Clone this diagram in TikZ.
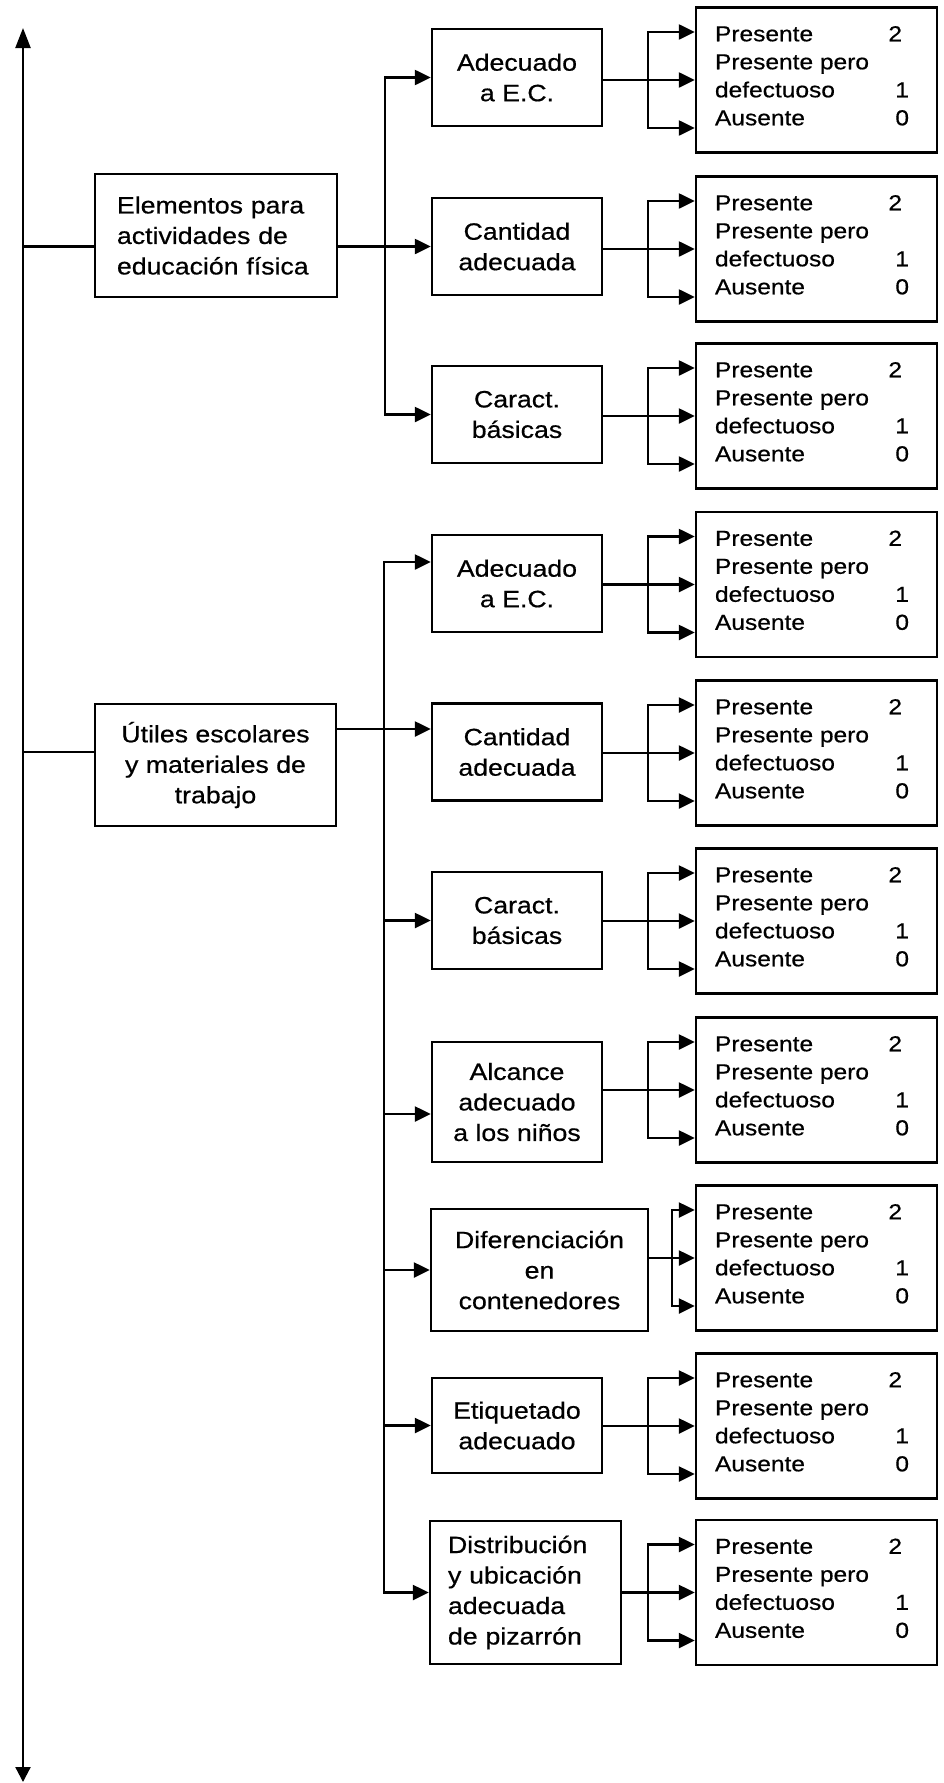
\documentclass[tikz,border=0pt]{standalone}
\usepackage{fontspec}
\setmainfont{Liberation Sans}[FakeStretch=1.13,FakeBold=0.6]
\usetikzlibrary{arrows.meta}
\newcommand{\restxt}{\parbox[t]{194pt}{Presente\hfill 2\hspace*{7pt}\\Presente pero\\defectuoso\hfill 1\\Ausente\hfill 0}}
\newcommand{\resfork}[3]{%
  \path ([yshift=48pt]#2.west) coordinate (#2u) ([yshift=-48pt]#2.west) coordinate (#2d);
  \draw[arr] (#1.east |- #2.west) -- (#2.west);
  \draw[arrb] (#2u) -| (#3 |- #2d) -- (#2d);}
\newcommand{\resnode}[2]{%
  \node[resbox] (#1) at (816.5,#2) {};
  \node[restext] (#1t) at ([xshift=20pt,yshift=-35pt]#1.north west) {\restxt};}
\begin{document}
\begin{tikzpicture}[x=1pt,y=-1pt,
  lw/.style={line width=2.4pt},
  box/.style={draw,lw,rectangle,inner sep=0pt,align=center,font=\fontsize{23.6}{30.5}\selectfont},
  mid/.style={box,minimum width=170pt,minimum height=97pt},
  resbox/.style={draw,lw,rectangle,inner sep=0pt,minimum width=241pt,minimum height=145pt},
  restext/.style={anchor=base west,inner sep=0pt,font=\fontsize{21.7}{28}\selectfont},
  conn/.style={lw},
  arr/.style={lw,-{Triangle[length=16pt,width=15pt]}},
  arrb/.style={lw,{Triangle[length=16pt,width=15pt]}-{Triangle[length=16pt,width=15pt]}},
]
\useasboundingbox (0,0) rectangle (943,1783);

% axis
\coordinate (axT) at (23,28);
\coordinate (axB) at (23,1782);
\draw[line width=2.2pt,{Triangle[length=20pt,width=15pt]}-{Triangle[length=15pt,width=15pt]}] (axT) -- (axB);

% left boxes
\node[box,minimum width=242pt,minimum height=123pt,align=left,text width=198pt] (E) at (216,235.5) {Elementos para\\actividades de\\educación física};
\node[box,minimum width=241pt,minimum height=122pt] (U) at (215.5,765) {Útiles escolares\\y materiales de\\trabajo};

% middle boxes
\node[mid] (A1) at (517,77.5) {Adecuado\\a E.C.};
\node[mid] (C1) at (517,246.5) {Cantidad\\adecuada};
\node[mid] (K1) at (517,414.5) {Caract.\\básicas};
\node[mid] (A2) at (517,583.5) {Adecuado\\a E.C.};
\node[mid] (C2) at (517,752) {Cantidad\\adecuada};
\node[mid] (K2) at (517,920.5) {Caract.\\básicas};
\node[mid,minimum height=120pt] (L2) at (517,1102) {Alcance\\adecuado\\a los niños};
\node[mid,minimum width=217pt,minimum height=122pt] (D2) at (539.5,1270) {Diferenciación\\en\\contenedores};
\node[mid,minimum height=95pt] (T2) at (517,1425.5) {Etiquetado\\adecuado};
\node[mid,minimum width=191pt,minimum height=143pt,align=left,text width=155pt] (P2) at (525.5,1592.5) {Distribución\\y ubicación\\adecuada\\de pizarrón};

% result boxes
\resnode{R1}{80}
\resnode{R2}{249}
\resnode{R3}{416}
\resnode{R4}{584.5}
\resnode{R5}{753}
\resnode{R6}{921}
\resnode{R7}{1090}
\resnode{R8}{1258}
\resnode{R9}{1426}
\resnode{R10}{1592.5}

% group 1 connectors
\coordinate (t1) at (385,0);
\draw[conn] (axT |- C1.west) -- (E.west |- C1.west);
\draw[arr] (E.east |- C1.west) -- (C1.west);
\draw[arrb] (A1.west) -| (t1 |- K1.west) -- (K1.west);

% group 2 connectors
\coordinate (t2) at (384,0);
\coordinate (a2in) at (0,562);
\coordinate (c2in) at (0,729);
\coordinate (l2in) at (0,1114);
\draw[conn] (axT |- C2.west) -- (U.west |- C2.west);
\draw[arr] (U.east |- c2in) -- (C2.west |- c2in);
\draw[arrb] (A2.west |- a2in) -| (t2 |- P2.west) -- (P2.west);
\draw[arr] (t2 |- K2.west) -- (K2.west);
\draw[arr] (t2 |- l2in) -- (L2.west |- l2in);
\draw[arr] (t2 |- D2.west) -- (D2.west);
\draw[arr] (t2 |- T2.west) -- (T2.west);

% forks to results
\coordinate (f1) at (648,0);
\coordinate (f2) at (672,0);
\resfork{A1}{R1}{f1}
\resfork{C1}{R2}{f1}
\resfork{K1}{R3}{f1}
\resfork{A2}{R4}{f1}
\resfork{C2}{R5}{f1}
\resfork{K2}{R6}{f1}
\resfork{L2}{R7}{f1}
\resfork{D2}{R8}{f2}
\resfork{T2}{R9}{f1}
\resfork{P2}{R10}{f1}
\end{tikzpicture}
\end{document}
